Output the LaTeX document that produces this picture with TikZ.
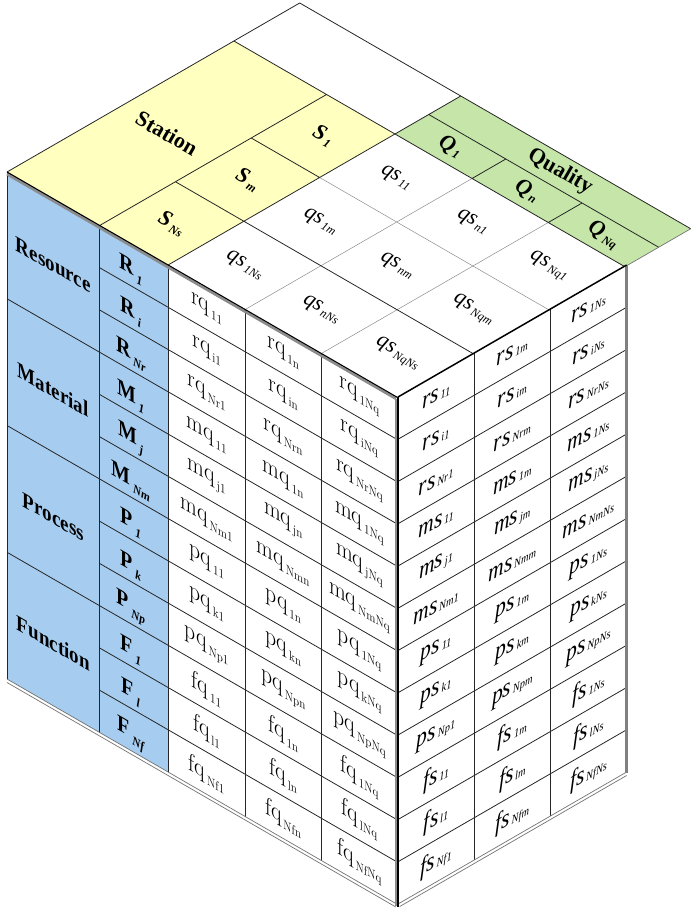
\documentclass[tikz,border=0pt]{standalone}
\usepackage{fontspec}
\newfontfamily\tnr{Liberation Serif}
\definecolor{cblue}{RGB}{166,205,240}
\definecolor{cyellow}{RGB}{255,255,192}
\definecolor{cgreen}{RGB}{197,230,168}
\newcommand{\Ldat}[2]{{\fontsize{25}{25}\selectfont #1\hspace{2pt}\raisebox{-5pt}{\fontsize{13}{13}\selectfont #2}}}
\newcommand{\Rdat}[2]{{\tnr\itshape\fontsize{25}{25}\selectfont #1\hspace{2pt}\raisebox{-1pt}{\fontsize{12}{12}\selectfont #2}}}
\newcommand{\Tdat}[2]{{\tnr\itshape\fontsize{22}{22}\selectfont #1\hspace{2pt}\raisebox{-3pt}{\fontsize{12}{12}\selectfont #2}}}
\newcommand{\Llab}[2]{{\tnr\bfseries\fontsize{23}{23}\selectfont #1\hspace{3pt}\raisebox{-6pt}{\fontsize{13}{13}\selectfont\itshape #2}}}
\newcommand{\Tlab}[2]{{\tnr\bfseries\itshape\fontsize{22}{22}\selectfont #1\hspace{2pt}\raisebox{-3pt}{\fontsize{12}{12}\selectfont #2}}}
\newcommand{\Grp}[1]{{\tnr\bfseries\fontsize{22}{22}\selectfont #1}}
\begin{document}
\begin{tikzpicture}[x=1pt,y=1pt,
  dk/.style={draw=black!85, line width=0.8pt},
  lt/.style={draw=black!45, line width=0.5pt},
  shadowline/.style={draw=black!45, line width=2.6pt},
  bottomline/.style={draw=black!55, line width=0.7pt},
  facetext/.style={transform shape},
  toptext/.style={rotate=-30},
  inner sep=0pt]
\useasboundingbox (0,0) rectangle (699,-909);

% ---------------- top face ----------------
\begin{scope}[shift={(7,-172)}, cm={0.866,-0.5,0.866,0.5,(0,0)}]
  \fill[cyellow] (0,0) rectangle (186,262);
  \fill[cgreen] (186,262) rectangle (451.5,338);
  \draw[lt] (275,0) -- (275,262) (363,0) -- (363,262) (186,175) -- (451.5,175);
  \draw[dk] (107,0) -- (107,262) (186,0) -- (186,338)
            (107,87.5) -- (451.5,87.5) (107,175) -- (186,175)
            (0,262) -- (451.5,262) (186,301) -- (451.5,301)
            (275,262) -- (275,301) (363,262) -- (363,301);
  \draw[dk] (0,0) -- (0,338) -- (451.5,338);
  \draw[bottomline] (451.5,264) -- (451.5,338);
  \node[toptext] (station) at (53.5,131) {\Grp{Station}};
  \node[toptext] (sNs) at (146.5,43.75) {\Tlab{S}{Ns}};
  \node[toptext] (sm) at (146.5,131.25) {\Tlab{S}{m}};
  \node[toptext] (s1) at (146.5,218.5) {\Tlab{S}{1}};
  \node[toptext] (q1) at (230.5,281.5) {\Tlab{Q}{1}};
  \node[toptext] (qn) at (319,281.5) {\Tlab{Q}{n}};
  \node[toptext] (qNq) at (407,281.5) {\Tlab{Q}{Nq}};
  \node[toptext] (quality) at (319,319.5) {\Grp{Quality}};
  \foreach \u/\r in {230.5/1,319/n,407/Nq}{
    \node[toptext] (qs\r Ns) at (\u,43.75) {\Tdat{qs}{\r Ns}};
    \node[toptext] (qs\r m) at (\u,131.25) {\Tdat{qs}{\r m}};
    \node[toptext] (qs\r 1) at (\u,218.5) {\Tdat{qs}{\r 1}};
  }
\end{scope}

% ---------------- left face ----------------
\begin{scope}[shift={(7,-172)}, cm={0.866,-0.5,0,1,(0,0)}]
  \fill[cblue] (0,0) rectangle (186,-507);
  \draw[dk] (0,0) -- (0,-507) (107,0) -- (107,-507) (186,0) -- (186,-507)
            (275,0) -- (275,-507) (363,0) -- (363,-507);
  \foreach \k in {1,...,11} \draw[dk] (107,{-\k*42.25}) -- (451.5,{-\k*42.25});
  \foreach \k in {3,6,9} \draw[dk] (0,{-\k*42.25}) -- (107,{-\k*42.25});
  \draw[bottomline] (0,-507) -- (451.5,-507) (0,-510.5) -- (449,-510.5);
  \draw[shadowline] (0,-2.2) -- (449,-2.2);
  \draw[shadowline] (449,-2) -- (449,-509);
  \draw[draw=black, line width=1.1pt] (0,0) -- (451.5,0);
  \node[facetext] (gRes) at (53.5,-66) {\Grp{Resource}};
  \node[facetext] (gMat) at (53.5,-191) {\Grp{Material}};
  \node[facetext] (gPro) at (53.5,-318) {\Grp{Process}};
  \node[facetext] (gFun) at (53.5,-444) {\Grp{Function}};
  \foreach \k/\m/\s in {0/R/1,1/R/i,2/R/Nr,3/M/1,4/M/j,5/M/Nm,6/P/1,7/P/k,8/P/Np,9/F/1,10/F/l,11/F/Nf}
    \node[facetext] (lab\k) at (143,{-(\k+0.5)*42.25-5}) {\Llab{\m}{\s}};
  \foreach \k/\m/\sa/\sb/\sc in {0/rq/11/1n/1Nq,1/rq/i1/in/iNq,2/rq/Nr1/Nrn/NrNq,
      3/mq/11/1n/1Nq,4/mq/j1/jn/jNq,5/mq/Nm1/Nmn/NmNq,
      6/pq/11/1n/1Nq,7/pq/k1/kn/kNq,8/pq/Np1/Npn/NpNq,
      9/fq/11/1n/1Nq,10/fq/l1/ln/lNq,11/fq/Nf1/Nfn/NfNq}{
    \node[facetext] (ldA\k) at (230.5,{-(\k+0.5)*42.25}) {\Ldat{\m}{\sa}};
    \node[facetext] (ldB\k) at (319,{-(\k+0.5)*42.25}) {\Ldat{\m}{\sb}};
    \node[facetext] (ldC\k) at (407,{-(\k+0.5)*42.25}) {\Ldat{\m}{\sc}};
  }
\end{scope}

% ---------------- right face ----------------
\begin{scope}[shift={(398,-397)}, cm={0.866,0.5,0,1,(0,0)}]
  \draw[dk] (88,0) -- (88,-507) (176,0) -- (176,-507);
  \foreach \k in {1,...,11} \draw[dk] (0,{-\k*42.25}) -- (264,{-\k*42.25});
  \draw[bottomline] (0,-507) -- (264,-507) (2,-510.5) -- (264,-510.5);
  \draw[draw=black!50, line width=3pt] (264,0) -- (264,-508);
  \draw[draw=black, line width=1.5pt] (0,0) -- (264,0);
  \draw[draw=black, line width=1.8pt] (0,0.5) -- (0,-510);
  \foreach \k/\m/\sa/\sb/\sc in {0/rs/11/1m/1Ns,1/rs/i1/im/iNs,2/rs/Nr1/Nrm/NrNs,
      3/ms/11/1m/1Ns,4/ms/j1/jm/jNs,5/ms/Nm1/Nmm/NmNs,
      6/ps/11/1m/1Ns,7/ps/k1/km/kNs,8/ps/Np1/Npm/NpNs,
      9/fs/11/1m/1Ns,10/fs/l1/lm/lNs,11/fs/Nf1/Nfm/NfNs}{
    \node[facetext] (rdA\k) at (44,{-(\k+0.5)*42.25}) {\Rdat{\m}{\sa}};
    \node[facetext] (rdB\k) at (132,{-(\k+0.5)*42.25}) {\Rdat{\m}{\sb}};
    \node[facetext] (rdC\k) at (220,{-(\k+0.5)*42.25}) {\Rdat{\m}{\sc}};
  }
\end{scope}
\end{tikzpicture}
\end{document}
